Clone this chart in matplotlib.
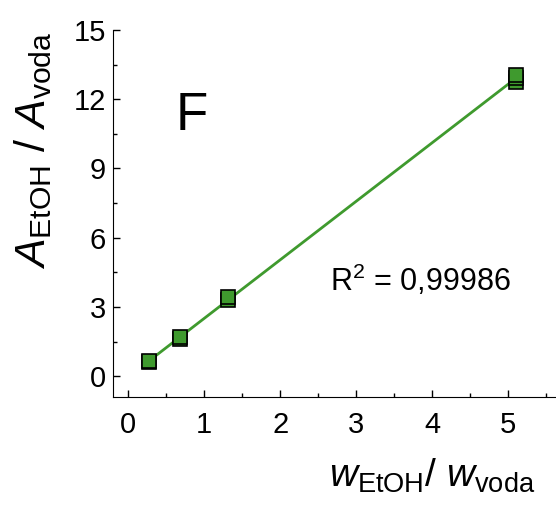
import numpy as np
import matplotlib.pyplot as plt

plt.rcParams['font.family'] = ['Liberation Sans', 'DejaVu Sans']
plt.rcParams['mathtext.fontset'] = 'custom'
plt.rcParams['mathtext.rm'] = 'Liberation Sans'
plt.rcParams['mathtext.it'] = 'Liberation Sans:italic'

# measured points (replicates)
w_ratio = [0.27, 0.27, 0.68, 0.68, 1.32, 1.32, 5.10, 5.10, 5.10]
a_ratio = [0.62, 0.68, 1.62, 1.70, 3.30, 3.42, 12.75, 12.90, 13.05]
r2_text = 'R$^2$ = 0,99986'
panel = 'F'

green = '#3f9a2e'
W, H = 556, 505

fig = plt.figure(figsize=(W / 100, H / 100), dpi=100)
ax = fig.add_axes([113 / W, 1 - 397 / H, 1 - 113 / W, (397 - 30) / H])

# linear fit
k, q = np.polyfit(w_ratio, a_ratio, 1)
xf = np.array([min(w_ratio), max(w_ratio)])
ax.plot(xf, k * xf + q, color=green, lw=2, zorder=2)

ax.plot(w_ratio, a_ratio, 's', ms=10, mfc=green, mec='black', mew=1.2, zorder=3)

ax.set_xlim(-0.2, 5.63)
ax.set_ylim(-0.9, 15)
ax.set_xticks([0, 1, 2, 3, 4, 5])
ax.set_yticks([0, 3, 6, 9, 12, 15])
ax.set_xticks(np.arange(0.5, 5.6, 1), minor=True)
ax.set_yticks(np.arange(1.5, 15, 3), minor=True)
ax.tick_params(which='both', direction='in', labelsize=21, width=1)
ax.tick_params(which='major', length=5)
ax.tick_params(which='minor', length=3)
ax.tick_params(axis='x', which='major', pad=10)
ax.tick_params(axis='y', which='major', pad=5)

ax.spines['top'].set_visible(False)
ax.spines['right'].set_visible(False)

# axis titles placed in figure pixels
fig.text(45 / W, 1 - 150 / H, r'$\mathit{A}_{\mathrm{EtOH}}$ / $\mathit{A}_{\mathrm{voda}}$',
         fontsize=31, rotation=90, rotation_mode='anchor', ha='center', va='baseline')
fig.text(329 / W, 1 - 487 / H, r'$\mathit{w}_{\mathrm{EtOH}}$/ $\mathit{w}_{\mathrm{voda}}$',
         fontsize=28, ha='left', va='baseline')

fig.text(176 / W, 1 - 130 / H, panel, fontsize=38, ha='left', va='baseline')
fig.text(330 / W, 1 - 291 / H, r2_text, fontsize=22, ha='left', va='baseline')

fig.savefig('out.png', dpi=100)
